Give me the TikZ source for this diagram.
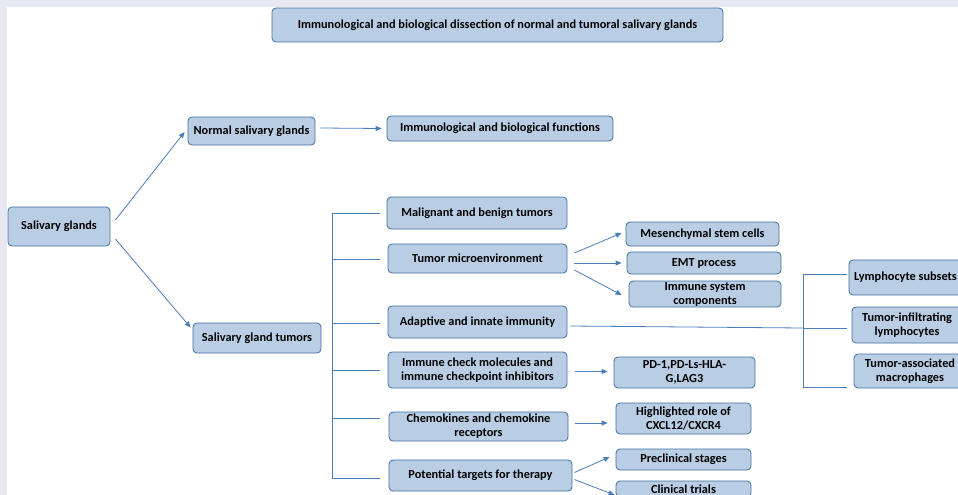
\documentclass[tikz,border=0pt]{standalone}
\usepackage{fontspec}
\setmainfont{Carlito}
\usetikzlibrary{arrows.meta,calc}
\definecolor{boxfill}{HTML}{B9CDE5}
\definecolor{boxline}{HTML}{41719C}
\definecolor{arr}{HTML}{4A7EBB}
\definecolor{framecol}{HTML}{E7E8F2}
\tikzset{
  box/.style={draw=boxline, fill=boxfill, rounded corners=4pt, line width=0.8pt,
    font=\bfseries\fontsize{12.3}{14}\selectfont, align=center, inner sep=0pt},
  conn/.style={draw=arr, line width=0.8pt},
  arrow/.style={conn, -{Triangle[length=6pt,width=5pt]}}
}
\newcommand{\bx}[6]{\node[box, minimum width={(#4-#2)*1pt}, minimum height={(#5-#3)*1pt}] (#1) at ({(#2+#4)/2},{(#3+#5)/2}) {#6};}
\begin{document}
\begin{tikzpicture}[x=1pt,y=-1pt]
\useasboundingbox (0,0) rectangle (958,495);
\clip (0,0) rectangle (958,495);
\fill[white] (0,0) rectangle (958,495);
\fill[framecol] (0,0) rectangle (958,7);
\fill[framecol] (0,0) rectangle (7,495);

\bx{title}{272}{8}{723}{42}{Immunological and biological dissection of normal and tumoral salivary glands}
\bx{normal}{188}{117}{315}{145}{Normal salivary glands}
\bx{imm}{387}{116}{613}{141}{Immunological and biological functions}
\bx{salg}{8}{207}{110}{246}{Salivary glands}
\bx{sgt}{193}{323}{321}{353}{Salivary gland tumors}
\bx{malig}{387}{197}{567}{229}{Malignant and benign tumors}
\bx{tme}{388}{244}{567}{273}{Tumor microenvironment}
\bx{adapt}{388}{306}{567}{338}{Adaptive and innate immunity}
\bx{icm}{388}{352}{567}{388}{Immune check molecules and\\immune checkpoint inhibitors}
\bx{chemo}{389}{412}{568}{441}{Chemokines and chemokine\\receptors}
\bx{ptt}{389}{460}{572}{491}{Potential targets for therapy}
\bx{msc}{626}{222}{779}{246}{Mesenchymal stem cells}
\bx{emt}{627}{252}{781}{274}{EMT process}
\bx{isc}{629}{281}{781}{307}{Immune system\\components}
\bx{pd}{614}{357}{755}{388}{PD-1,PD-Ls-HLA-\\G,LAG3}
\bx{cxcl}{616}{403}{751}{434}{Highlighted role of\\CXCL12/CXCR4}
\bx{precl}{616}{449}{751}{470}{Preclinical stages}
\bx{clin}{616}{481}{751}{497}{Clinical trials}
\bx{lym}{849}{260}{962}{295}{Lymphocyte subsets}
\bx{til}{852}{307}{962}{343}{Tumor-infiltrating\\lymphocytes}
\bx{tam}{854}{354}{966}{388}{Tumor-associated\\macrophages}

% arrows
\draw[arrow] ($(salg.east)+(5,-6.5)$) -- ($(normal.west)+(-3,1)$);
\draw[arrow] ($(salg.east)+(5,12.5)$) -- ($(sgt.west)+(-2,-10.5)$);
\draw[arrow] ($(normal.east)+(5,-3)$) -- ($(imm.west)+(-5,0)$);
\draw[arrow] ($(tme.east)+(7,-5.5)$) -- ($(msc.west)+(-4,-1)$);
\draw[arrow] ($(tme.east)+(7,4.5)$) -- ($(emt.west)+(-5,0)$);
\draw[arrow] ($(tme.east)+(7,11.5)$) -- ($(isc.west)+(-7,1)$);
\draw[arrow] ($(icm.east)+(8,1.5)$) -- ($(pd.west)+(-6,-1)$);
\draw[arrow] ($(chemo.east)+(7,-3.5)$) -- ($(cxcl.west)+(-8,4.5)$);
\draw[arrow] ($(ptt.east)+(2,-3)$) -- ($(precl.west)+(-6,-2.5)$);
\draw[arrow] ($(ptt.east)+(2,4)$) -- ($(clin.west)+(-1,6)$);

% left bracket
\coordinate (e1) at ($(malig.west)+(-7,0)$);
\coordinate (e2) at ($(tme.west)+(-8,0.5)$);
\coordinate (e3) at ($(adapt.west)+(-8,1)$);
\coordinate (e4) at ($(icm.west)+(-8,0)$);
\coordinate (e5) at ($(chemo.west)+(-9,-8.5)$);
\coordinate (e6) at ($(ptt.west)+(-9,2.5)$);
\coordinate (ls) at (332,213);
\draw[conn] (ls |- e1) -- (ls |- e6);
\foreach \e in {e1,e2,e3,e4,e5,e6} \draw[conn] (ls |- \e) -- (\e);

% right bracket
\coordinate (r1) at ($(lym.west)+(-2,-3.5)$);
\coordinate (r2) at ($(til.west)+(-5,3)$);
\coordinate (r3) at ($(tam.west)+(-7,16)$);
\coordinate (rs) at (803,274);
\draw[conn] (rs |- r1) -- (rs |- r3);
\foreach \e in {r1,r2,r3} \draw[conn] (rs |- \e) -- (\e);
\draw[conn] ($(adapt.east)+(3,4)$) -- (rs |- r2);
\end{tikzpicture}
\end{document}
